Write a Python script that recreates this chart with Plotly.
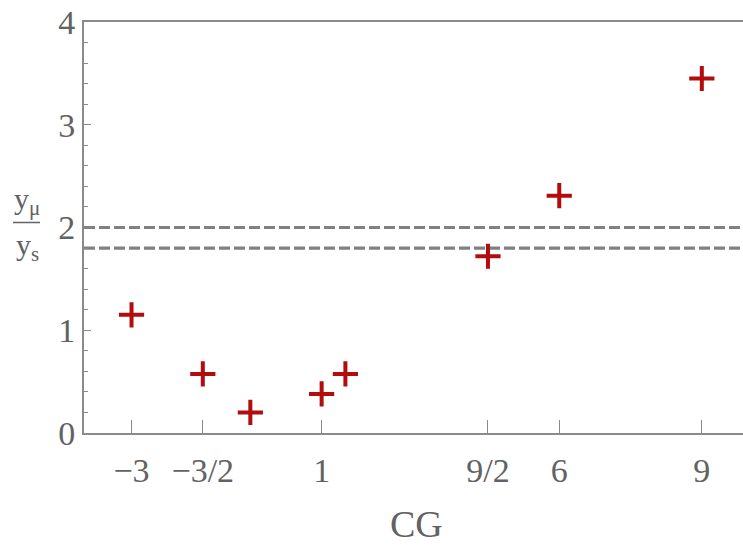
import plotly.graph_objects as go

# ---- data ----
cg_values = [-3, -1.5, -0.5, 1, 1.5, 4.5, 6, 9]
ratio_values = [1.15, 0.575, 0.20, 0.38, 0.575, 1.72, 2.31, 3.45]
ref_lines = [2.0, 1.8]
x_tickvals = [-3, -1.5, 1, 4.5, 6, 9]
x_ticktext = ["\u22123", "\u22123/2", "1", "9/2", "6", "9"]
y_tickvals = [0, 1, 2, 3, 4]
y_ticktext = ["0", "1", "2", "3", "4"]

W, H = 743, 545
L, R, T, B = 84, 0, 22, 112
PW, PH = W - L - R, H - T - B
XMIN = -4
XSCALE = 47.525
XMAX = XMIN + PW / XSCALE

def px(x):
    return (x - L) / PW

def py(y):
    return (H - B - y) / PH

FONT = "Liberation Serif"
TXT = "#626262"
AX = "#8a8a8a"

fig = go.Figure()
fig.add_trace(go.Scatter(
    x=cg_values, y=ratio_values, mode="markers",
    marker=dict(symbol="cross-thin", size=18, line=dict(width=4, color="#b30c0c"), color="#b30c0c"),
    showlegend=False, hoverinfo="skip", cliponaxis=False,
))
for v in ref_lines:
    fig.add_shape(type="line", xref="paper", yref="y", x0=0, x1=1, y0=v, y1=v,
                  line=dict(color="#808080", width=3.2, dash="11px,4px"), layer="below")

fig.update_layout(
    width=W, height=H, margin=dict(l=L, r=R, t=T, b=B),
    plot_bgcolor="white", paper_bgcolor="white",
    font=dict(family=FONT, color=TXT, size=33),
    xaxis=dict(range=[XMIN, XMAX], tickvals=x_tickvals, ticktext=x_ticktext,
               ticks="inside", ticklen=13, tickwidth=1.3, tickcolor=AX,
               showline=True, linecolor=AX, linewidth=1.8, mirror=True,
               showgrid=False, zeroline=False, ticklabelstandoff=6,
               tickfont=dict(family=FONT, size=34, color=TXT)),
    yaxis=dict(range=[0, 4], tickvals=y_tickvals, ticktext=y_ticktext,
               ticks="inside", ticklen=7, tickwidth=1.3, tickcolor=AX,
               showline=True, linecolor=AX, linewidth=1.8, mirror=False,
               showgrid=False, zeroline=False, ticklabelstandoff=0,
               minor=dict(dtick=0.2, ticks="inside", ticklen=4, tickwidth=1, tickcolor=AX, showgrid=False),
               tickfont=dict(family=FONT, size=34, color=TXT)),
)

# x-axis title "CG" centred under the full frame
fig.add_annotation(x=(XMIN + 10) / 2, xref="x", y=py(524), yref="paper",
                   text="CG", showarrow=False, font=dict(family=FONT, size=38, color=TXT),
                   xanchor="center", yanchor="middle")

# y-axis title as a fraction y_mu / y_s
fig.add_annotation(x=px(27), xref="paper", y=py(222), yref="paper",
                   text="y<sub>\u03bc</sub>", showarrow=False,
                   font=dict(family=FONT, size=30, color=TXT), xanchor="center", yanchor="bottom")
fig.add_annotation(x=px(27), xref="paper", y=py(226), yref="paper",
                   text="y<sub>s</sub>", showarrow=False,
                   font=dict(family=FONT, size=30, color=TXT), xanchor="center", yanchor="top")
fig.add_shape(type="line", xref="paper", yref="paper", x0=px(13), x1=px(40), y0=py(222.5), y1=py(222.5),
              line=dict(color=TXT, width=1.5))

fig.write_html("out.html")
